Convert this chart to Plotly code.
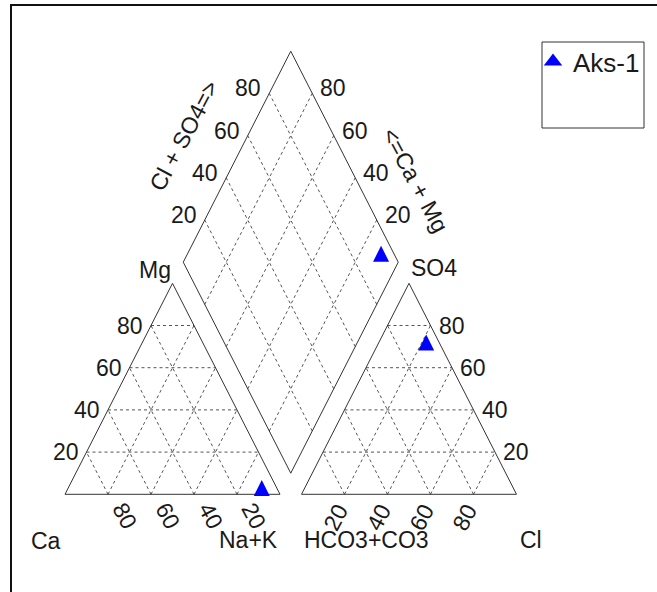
import plotly.graph_objects as go

# ---------------- data (percent of meq) ----------------
samples = ["Aks-1"]
ca = [7.0]
mg = [3.0]
na_k = [90.0]
hco3_co3 = [6.0]
so4 = [72.0]
cl = [22.0]
grid_ticks = [20, 40, 60, 80]
tick_labels = ["20", "40", "60", "80"]

# ---------------- geometry helpers ----------------
GAP = 0.1
RX0 = 1 + GAP
FS = 23
TXT = "#1a1a1a"
LINE = "#333333"
GRID = "#555555"
MARK = "#0000ff"


def cation_xy(c_, m_, n_):
    t = c_ + m_ + n_
    m = m_ / t
    n = n_ / t
    return n + m / 2, m


def anion_xy(h_, s_, c_):
    t = h_ + s_ + c_
    s = s_ / t
    c = c_ / t
    return RX0 + c + s / 2, s


def diamond_xy(a, c):
    return 1 + GAP / 2 + 0.5 * (a - c), GAP + a + c


def seg_trace(segs, color, width, dash):
    xs, ys = [], []
    for (x0, y0), (x1, y1) in segs:
        xs += [x0, x1, None]
        ys += [y0, y1, None]
    return go.Scatter(x=xs, y=ys, mode="lines", hoverinfo="skip", showlegend=False,
                      line=dict(color=color, width=width, dash=dash))


fig = go.Figure()

# grid lines
grid = []
for t in grid_ticks:
    v = t / 100
    # left triangle
    grid.append(((v / 2, v), (1 - v / 2, v)))
    grid.append(((1 - v, 0), ((1 - v) / 2, 1 - v)))
    grid.append(((v, 0), (v + (1 - v) / 2, 1 - v)))
    # right triangle
    grid.append(((RX0 + v / 2, v), (RX0 + 1 - v / 2, v)))
    grid.append(((RX0 + v, 0), (RX0 + v + (1 - v) / 2, 1 - v)))
    grid.append(((RX0 + 1 - v, 0), (RX0 + (1 - v) / 2, 1 - v)))
    # diamond
    grid.append((diamond_xy(v, 0), diamond_xy(v, 1)))
    grid.append((diamond_xy(0, v), diamond_xy(1, v)))
fig.add_trace(seg_trace(grid, GRID, 1, "3px,3px"))

# outlines
outl = []
tri = [(0, 0), (1, 0), (0.5, 1), (0, 0)]
for i in range(3):
    outl.append((tri[i], tri[i + 1]))
    outl.append(((tri[i][0] + RX0, tri[i][1]), (tri[i + 1][0] + RX0, tri[i + 1][1])))
dia = [diamond_xy(0, 0), diamond_xy(1, 0), diamond_xy(1, 1), diamond_xy(0, 1), diamond_xy(0, 0)]
for i in range(4):
    outl.append((dia[i], dia[i + 1]))
fig.add_trace(seg_trace(outl, LINE, 1, "solid"))

# sample points (upward triangle, centred on the point)
marker = dict(symbol="arrow-down", angle=180, size=16, color=MARK, standoff=8, line=dict(width=0))
for i, name in enumerate(samples):
    cx, cy = cation_xy(ca[i], mg[i], na_k[i])
    ax, ay = anion_xy(hco3_co3[i], so4[i], cl[i])
    a = (so4[i] + cl[i]) / (hco3_co3[i] + so4[i] + cl[i])
    c = (ca[i] + mg[i]) / (ca[i] + mg[i] + na_k[i])
    dx, dy = diamond_xy(a, c)
    fig.add_trace(go.Scatter(x=[cx, ax, dx], y=[cy, ay, dy], mode="markers", name=name,
                             legendgroup=name, showlegend=False,
                             marker=marker, hoverinfo="skip"))
    # legend entry
    fig.add_trace(go.Scatter(x=[None], y=[None], mode="markers", name=name,
                             legendgroup=name, showlegend=True,
                             marker=dict(symbol="triangle-up", size=16, color=MARK,
                                         line=dict(width=0))))

# ---------------- text ----------------
ann = []


def A(x, y, text, xa="center", ya="middle", xs=0, ys=0, ang=0, size=FS):
    ann.append(dict(x=x, y=y, xref="x", yref="y", text=text, showarrow=False,
                    xanchor=xa, yanchor=ya, xshift=xs, yshift=ys, textangle=ang,
                    font=dict(size=size, color=TXT, family="Liberation Sans, Arial")))


for t, lab in zip(grid_ticks, tick_labels):
    v = t / 100
    A(v / 2, v, lab, xa="right", xs=-6)                       # Mg
    A(1 - v, 0, lab, xs=17, ys=-21.5, ang=62)                  # Ca
    A(RX0 + v, 0, lab, xs=-8.5, ys=-23, ang=-62)               # Cl
    A(RX0 + 1 - v / 2, v, lab, xa="left", xs=6)                # SO4
    x, y = diamond_xy(v, 1)
    A(x, y, lab, xa="right", xs=-6, ys=5)                      # Cl+SO4
    x, y = diamond_xy(1, v)
    A(x, y, lab, xa="left", xs=6, ys=5)                        # Ca+Mg

x, y = diamond_xy(0.5, 1)
A(x, y, "Cl + SO4=&gt;", xs=-53, ys=20.6, ang=-62)
x, y = diamond_xy(1, 0.5)
A(x, y, "&lt;=Ca + Mg", xs=70.5, ys=-23.3, ang=62)

A(0, 0, "Ca", xa="right", xs=-2, ys=-46.7)
A(1, 0, "Na+K", xa="right", ys=-45.7)
A(RX0, 0, "HCO3+CO3", xa="left", ys=-45.7)
A(RX0 + 1, 0, "Cl", xa="left", xs=1, ys=-45.7)
A(0.5, 1, "Mg", xa="right", ys=13.3)
A(RX0 + 0.5, 1, "SO4", xa="left", ys=15)

W, H = 657, 592
PX0, PXU = 65, 215        # pixel of x=0, pixels per unit
PY0, PYU = 494.3, 211     # pixel of y=0, pixels per unit

fig.update_layout(
    width=W, height=H, margin=dict(l=0, r=0, t=0, b=0, pad=0),
    paper_bgcolor="white", plot_bgcolor="white",
    xaxis=dict(range=[-PX0 / PXU, (W - PX0) / PXU], visible=False, fixedrange=True),
    yaxis=dict(range=[(PY0 - H) / PYU, PY0 / PYU], visible=False, fixedrange=True),
    annotations=ann,
    showlegend=True,
    legend=dict(x=533 / W, y=1 - 38 / H, xanchor="left", yanchor="top",
                bgcolor="rgba(0,0,0,0)", borderwidth=0,
                font=dict(size=26, color=TXT, family="Liberation Sans, Arial")),
    shapes=[
        dict(type="rect", xref="paper", yref="paper", x0=11 / W, x1=1.05, y0=-0.05, y1=1 - 5 / H,
             line=dict(color="#111111", width=2), fillcolor="rgba(0,0,0,0)", layer="above"),
        dict(type="rect", xref="paper", yref="paper", x0=542 / W, x1=644 / W,
             y0=1 - 128 / H, y1=1 - 42 / H,
             line=dict(color="#333333", width=1), fillcolor="rgba(0,0,0,0)", layer="above"),
    ],
)

fig.write_html("out.html", config={"displayModeBar": False},
               post_script="document.body.style.margin='0px';")
